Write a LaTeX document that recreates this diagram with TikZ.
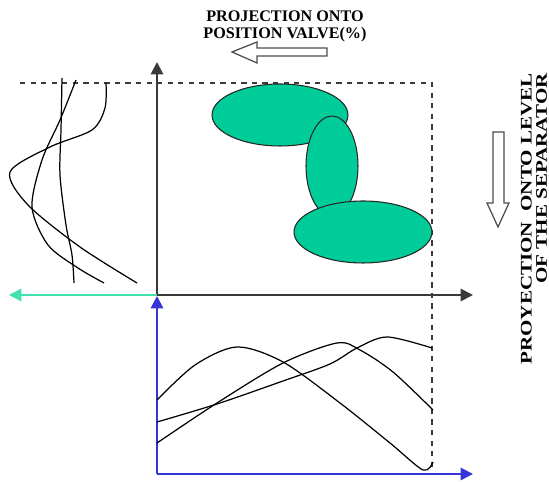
\documentclass[tikz,border=0pt]{standalone}
\usepackage{fontspec}
\setmainfont{Liberation Serif}
\usepackage{tikz}
\usetikzlibrary{arrows.meta, positioning, calc, shapes.geometric}
\definecolor{axisgray}{HTML}{3A3A3A}
\definecolor{lobegreen}{HTML}{00CC99}
\definecolor{projcyan}{HTML}{40E0B0}
\definecolor{projblue}{HTML}{3535D8}

\begin{document}
\begin{tikzpicture}[x=0.02cm, y=-0.02cm,
    axis/.style={draw=#1, line width=1.1pt, -{Triangle[length=7pt, width=7pt]}},
    frame/.style={draw=axisgray, dashed, line width=0.8pt},
    lobe/.style={draw=black!85, fill=lobegreen, line width=0.6pt, ellipse, inner sep=0pt},
    trace/.style={draw=black, line width=0.7pt, smooth},
    hollow/.style={draw=black!70, fill=white, line width=0.7pt},
    caption/.style={font=\bfseries\fontsize{9.2}{9.6}\selectfont, inner sep=0pt}
]
\useasboundingbox (0,0) rectangle (549,482);

% axes
\coordinate (O)   at (157,295);
\coordinate (ytp) at (157,62);
\coordinate (xtp) at (473,295);
\coordinate (ltp) at (9,295);
\coordinate (B)   at (157,474);
\coordinate (btp) at (157,296);
\coordinate (brt) at (473,474);

% dashed frame
\coordinate (fl) at (20,83);
\coordinate (fc) at (432,83);
\coordinate (fb) at (432,470);
\draw[frame] (fl) -- (fc) -- (fb);

% operating region
\node[lobe, minimum width=2.72cm, minimum height=1.24cm] (lobeA) at (280,115) {};
\node[lobe, minimum width=1.04cm, minimum height=2cm] (lobeB) at (332,166) {};
\node[lobe, minimum width=2.76cm, minimum height=1.24cm] (lobeC) at (363,232) {};

\draw[axis=axisgray] (O) -- (ytp);
\draw[axis=axisgray] (O) -- (xtp);
\draw[axis=projcyan] (O) -- (ltp);
\draw[axis=projblue] (B) -- (btp);
\draw[axis=projblue] (B) -- (brt);

% projection onto the level
\draw[trace] plot coordinates {(62,78) (61,130) (60,175) (66,225) (72,255) (74,283)};
\draw[trace] plot coordinates {(76,80) (60,120) (42,160) (32,207) (48,245) (78,268) (104,283)};
\draw[trace] plot coordinates {(106,83) (105,108) (92,130) (50,147) (10,172) (28,205) (80,247) (137,283)};

% projection onto the valve
\draw[trace] plot coordinates {(157,400) (195,365) (237,347) (283,362) (340,403) (390,443) (423,470) (433,462)};
\draw[trace] plot coordinates {(157,422) (217,404) (283,381) (330,364) (357,348) (387,337) (432,348)};
\draw[trace] plot coordinates {(157,443) (217,403) (283,363) (337,343) (360,350) (393,372) (433,410)};

% labels
\node[caption, align=center] (valvetxt) at (285,26) {PROJECTION ONTO\\POSITION VALVE(\%)};
\node[caption, font=\bfseries\fontsize{9.2}{8.6}\selectfont, align=right, rotate=90, xscale=1.3, anchor=east] (leveltxt) at (534,73) {PROYECTION\ \ ONTO LEVEL\\OF THE SEPARATOR};

\draw[hollow] (232,52) -- (257,42) -- (257,48) -- (327,48) -- (327,56) -- (257,56) -- (257,63) -- cycle;
\draw[hollow] (498,227) -- (487,203) -- (493,203) -- (493,132) -- (504,132) -- (504,203) -- (509,203) -- cycle;
\end{tikzpicture}
\end{document}
